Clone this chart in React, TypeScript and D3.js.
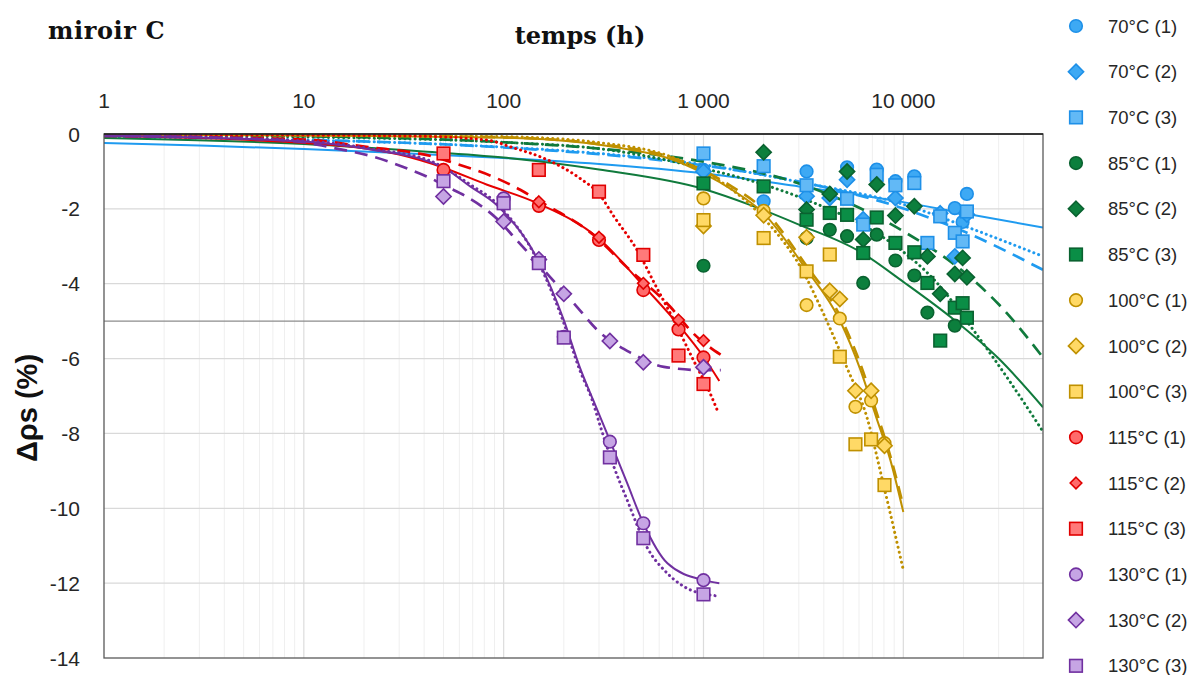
import React from "react";
import * as d3 from "d3";

const W = 1196;
const H = 675;

// axis ticks
const xTicks = [1, 10, 100, 1000, 10000];
const xTickLabels = ["1", "10", "100", "1 000", "10 000"];
const yTicks = [0, -2, -4, -6, -8, -10, -12, -14];
const yTickLabels = ["0", "-2", "-4", "-6", "-8", "-10", "-12", "-14"];
const thresholdValue = -5;

// measured points [time (h), Δρs (%)]
const s70_1 = [[1000, -0.96], [2000, -1.8], [3280, -1.0], [5230, -0.89], [7360, -0.95], [9130, -1.26], [11350, -1.13], [18100, -1.98], [19800, -2.35], [20800, -1.6]];
const s70_2 = [[1000, -1.0], [3280, -1.66], [4285, -1.71], [5230, -1.22], [6300, -2.28], [9130, -1.71], [15300, -2.12], [18100, -3.27], [20800, -2.15]];
const s70_3 = [[1000, -0.52], [2000, -0.86], [3280, -1.37], [5230, -1.73], [6300, -2.42], [7360, -1.09], [9130, -1.37], [11350, -1.31], [13200, -2.91], [15300, -2.2], [18100, -2.64], [19800, -2.87], [20800, -2.07]];
const s85_1 = [[1000, -3.52], [3280, -2.78], [4285, -2.56], [5230, -2.73], [6300, -3.98], [7360, -2.69], [9130, -3.38], [11350, -3.78], [13200, -4.77], [18100, -5.12]];
const s85_2 = [[2000, -0.49], [3280, -2.02], [4285, -1.6], [5230, -1.0], [6300, -2.82], [7360, -1.35], [9130, -2.18], [11350, -1.93], [13200, -3.27], [15300, -4.27], [18100, -3.74], [19800, -3.31], [20800, -3.83]];
const s85_3 = [[1000, -1.32], [2000, -1.4], [3280, -2.29], [4285, -2.11], [5230, -2.16], [6300, -3.18], [7360, -2.23], [9130, -2.91], [11350, -3.16], [13200, -3.98], [15300, -5.52], [18100, -4.64], [19800, -4.52], [20800, -4.91]];
const s100_1 = [[1000, -1.72], [2000, -2.05], [3280, -4.57], [4810, -4.93], [5760, -7.29], [6900, -7.12], [8050, -8.26]];
const s100_2 = [[1000, -2.46], [2000, -2.17], [3280, -2.76], [4285, -4.19], [4810, -4.41], [5760, -6.86], [6900, -6.86], [8050, -8.33]];
const s100_3 = [[1000, -2.3], [2000, -2.78], [3280, -3.67], [4285, -3.22], [4810, -5.95], [5760, -8.29], [6900, -8.16], [8050, -9.38]];
const s115_1 = [[50, -0.96], [150, -1.92], [300, -2.83], [500, -4.17], [750, -5.22], [1000, -5.97]];
const s115_2 = [[150, -1.81], [300, -2.76], [500, -3.99], [750, -4.97], [1000, -5.52]];
const s115_3 = [[50, -0.52], [150, -0.96], [300, -1.54], [500, -3.23], [750, -5.92], [1000, -6.68]];
const s130_1 = [[100, -1.72], [150, -3.42], [200, -5.42], [340, -8.22], [500, -10.4], [1000, -11.92]];
const s130_2 = [[50, -1.67], [100, -2.34], [150, -3.35], [200, -4.27], [340, -5.53], [500, -6.1], [1000, -6.23]];
const s130_3 = [[50, -1.26], [100, -1.85], [150, -3.45], [200, -5.44], [340, -8.64], [500, -10.8], [1000, -12.3]];

// trend curves [time (h), Δρs (%)]
const fit70_1 = [[1, -0.24], [3, -0.31], [10, -0.4], [30, -0.51], [100, -0.64], [300, -0.8], [1000, -1.05], [3000, -1.4], [10000, -1.82], [20000, -2.12], [50000, -2.5]];
const fit70_2 = [[1, -0.06], [10, -0.15], [100, -0.36], [300, -0.54], [1000, -0.84], [3000, -1.27], [10000, -1.99], [20000, -2.6], [50000, -3.63]];
const fit70_3 = [[1, -0.08], [10, -0.16], [100, -0.35], [300, -0.52], [1000, -0.82], [3000, -1.28], [10000, -1.88], [20000, -2.45], [50000, -3.27]];
const fit85_1 = [[1, -0.11], [10, -0.27], [38, -0.46], [100, -0.63], [300, -0.95], [1000, -1.47], [1720, -1.9], [3000, -2.42], [6100, -3.15], [10000, -3.95], [18000, -4.97], [30000, -6.0], [50000, -7.3]];
const fit85_2 = [[1, -0.02], [10, -0.06], [100, -0.22], [300, -0.39], [1000, -0.74], [3000, -1.32], [10000, -2.6], [20000, -3.68], [30000, -4.55], [50000, -5.97]];
const fit85_3 = [[1, -0.03], [10, -0.08], [100, -0.22], [330, -0.42], [1000, -0.92], [2000, -1.35], [4000, -1.95], [6100, -2.4], [10000, -3.15], [14300, -3.9], [22500, -5.25], [35000, -6.7], [50000, -7.95]];
const fit100_1 = [[1, -0.02], [10, -0.04], [100, -0.1], [180, -0.16], [380, -0.37], [680, -0.66], [1000, -1.05], [1400, -1.5], [2000, -2.12], [3200, -3.55], [4800, -4.97], [6100, -6.3], [7300, -7.55], [8600, -8.7], [10000, -10.1]];
const fit100_2 = [[1, -0.01], [10, -0.03], [100, -0.09], [300, -0.27], [680, -0.62], [1000, -0.98], [1400, -1.42], [2000, -2.02], [3200, -3.45], [4800, -4.85], [6100, -6.15], [7300, -7.4], [8600, -8.6], [10000, -9.95]];
const fit100_3 = [[1, -0.0], [10, -0.02], [100, -0.07], [300, -0.23], [680, -0.6], [1000, -1.0], [1400, -1.5], [2000, -2.25], [3280, -3.85], [3700, -4.43], [5200, -6.22], [6600, -7.6], [7900, -9.3], [10000, -11.65]];
const fit115_1 = [[1, -0.05], [10, -0.24], [30, -0.55], [50, -0.9], [82, -1.35], [146, -1.84], [300, -2.8], [500, -4.05], [750, -5.1], [1000, -5.95], [1200, -6.6]];
const fit115_2 = [[1, -0.05], [10, -0.15], [21, -0.35], [44, -0.6], [56, -0.77], [92, -1.18], [121, -1.49], [146, -1.75], [282, -2.7], [412, -3.55], [680, -4.61], [890, -5.33], [1220, -5.9]];
const fit115_3 = [[1, -0.02], [10, -0.03], [38, -0.06], [82, -0.16], [112, -0.37], [164, -0.68], [243, -1.2], [300, -1.6], [356, -2.2], [465, -3.1], [580, -4.08], [710, -4.97], [890, -6.04], [1080, -6.93], [1170, -7.37]];
const fit130_1 = [[1, -0.05], [10, -0.2], [22, -0.42], [43, -0.75], [50, -0.9], [68, -1.4], [92, -1.89], [150, -3.41], [200, -4.97], [240, -6.22], [280, -7.1], [342, -8.22], [415, -9.33], [500, -10.4], [660, -11.47], [1000, -11.92], [1200, -12.0]];
const fit130_2 = [[1, -0.05], [5, -0.12], [10, -0.22], [14, -0.37], [22, -0.6], [34, -0.95], [43, -1.18], [52, -1.41], [65, -1.67], [92, -2.25], [116, -2.83], [170, -3.81], [232, -4.61], [292, -5.22], [437, -5.86], [633, -6.22], [1000, -6.31], [1220, -6.31]];
const fit130_3 = [[1, -0.04], [10, -0.18], [22, -0.4], [43, -0.72], [68, -1.35], [92, -1.85], [150, -3.45], [200, -5.05], [240, -6.3], [277, -7.1], [305, -7.82], [356, -8.89], [415, -9.78], [520, -11.03], [660, -11.74], [860, -12.18], [1170, -12.34]];

const seriesNames = ["70°C (1)", "70°C (2)", "70°C (3)", "85°C (1)", "85°C (2)", "85°C (3)", "100°C (1)", "100°C (2)", "100°C (3)", "115°C (1)", "115°C (2)", "115°C (3)", "130°C (1)", "130°C (2)", "130°C (3)"];

const C70 = { line: "#1F9BF0", stroke: "#1E90E8", fill: "#3DA9F4", fillSq: "#62B9F6" };
const C85 = { line: "#107A3C", stroke: "#0A6230", fill: "#0C7F3D", fillSq: "#0A8E46" };
const C100 = { line: "#BF9000", stroke: "#BF9000", fill: "#FFD966", fillSq: "#FFD966" };
const C115 = { line: "#E60000", stroke: "#E00000", fill: "#FF6B6B", fillSq: "#FF7A7A" };
const C130 = { line: "#7030A0", stroke: "#7030A0", fill: "#C6A5E4", fillSq: "#C6A5E4" };

const seriesDefs = [
  { data: s70_1, fit: fit70_1, shape: "circle", c: C70, style: "solid" },
  { data: s70_2, fit: fit70_2, shape: "diamond", c: C70, style: "dash" },
  { data: s70_3, fit: fit70_3, shape: "square", c: C70, style: "dot" },
  { data: s85_1, fit: fit85_1, shape: "circle", c: C85, style: "solid" },
  { data: s85_2, fit: fit85_2, shape: "diamond", c: C85, style: "dash" },
  { data: s85_3, fit: fit85_3, shape: "square", c: C85, style: "dot" },
  { data: s100_1, fit: fit100_1, shape: "circle", c: C100, style: "solid" },
  { data: s100_2, fit: fit100_2, shape: "diamond", c: C100, style: "dash" },
  { data: s100_3, fit: fit100_3, shape: "square", c: C100, style: "dot" },
  { data: s115_1, fit: fit115_1, shape: "circle", c: C115, style: "solid" },
  { data: s115_2, fit: fit115_2, shape: "smalldiamond", c: C115, style: "dash" },
  { data: s115_3, fit: fit115_3, shape: "square", c: C115, style: "dot" },
  { data: s130_1, fit: fit130_1, shape: "circle", c: C130, style: "solid" },
  { data: s130_2, fit: fit130_2, shape: "diamond", c: C130, style: "dash" },
  { data: s130_3, fit: fit130_3, shape: "square", c: C130, style: "dot" },
];

const PL = 104, PR = 1043, PT = 134, PB = 658;

function Marker({ shape, cx, cy, c }: any) {
  const sw = 1.6;
  if (shape === "circle") return <circle cx={cx} cy={cy} r={6.3} fill={c.fill} stroke={c.stroke} strokeWidth={sw} />;
  if (shape === "square") return <rect x={cx - 6.3} y={cy - 6.3} width={12.6} height={12.6} fill={c.fillSq} stroke={c.stroke} strokeWidth={sw} />;
  const r = shape === "smalldiamond" ? 5.8 : 7.6;
  const d = `M${cx},${cy - r}L${cx + r},${cy}L${cx},${cy + r}L${cx - r},${cy}Z`;
  return <path d={d} fill={c.fill} stroke={c.stroke} strokeWidth={sw} />;
}

export default function App() {
  const x = d3.scaleLog().domain([1, 50000]).range([PL, PR]);
  const y = d3.scaleLinear().domain([0, -14]).range([PT, PB]);
  const minor: number[] = [];
  for (let d = 1; d <= 10000; d *= 10) for (let k = 2; k <= 9; k++) if (k * d < 50000) minor.push(k * d);
  const line = d3.line<any>().x((d) => x(d[0])).y((d) => y(d[1])).curve(d3.curveMonotoneX);
  const dashFor = (s: string) => (s === "dash" ? "13,8" : s === "dot" ? "0.1,5" : undefined);
  const widthFor = (s: string) => (s === "dash" ? 2.7 : s === "dot" ? 3 : 2);
  const legendY = (i: number) => 26 + 45.7 * i;
  const sans = "'Liberation Sans', Arial, sans-serif";
  const serif = "'DejaVu Serif', serif";
  return (
    <svg width={W} height={H} style={{ display: "block", position: "absolute", left: 0, top: 0 }}>
      <rect width={W} height={H} fill="#fff" />
      <defs>
        <clipPath id="plot">
          <rect x={PL} y={PT} width={PR - PL} height={PB - PT} />
        </clipPath>
      </defs>
      {/* grid */}
      {minor.map((v) => (
        <line key={"mn" + v} x1={x(v)} x2={x(v)} y1={PT} y2={PB} stroke="#efefef" strokeWidth={1} />
      ))}
      {xTicks.slice(1).map((v) => (
        <line key={"mj" + v} x1={x(v)} x2={x(v)} y1={PT} y2={PB} stroke="#dcdcdc" strokeWidth={1.2} />
      ))}
      {yTicks.slice(1, -1).map((v) => (
        <line key={"hy" + v} x1={PL} x2={PR} y1={y(v)} y2={y(v)} stroke="#d9d9d9" strokeWidth={1.2} />
      ))}
      <line x1={PL} x2={PR} y1={y(thresholdValue)} y2={y(thresholdValue)} stroke="#8c8c8c" strokeWidth={1.3} />
      {/* trend curves */}
      <g clipPath="url(#plot)">
        {seriesDefs.map((s, i) => (
          <path
            key={"f" + i}
            d={line(s.fit) || ""}
            fill="none"
            stroke={s.c.line}
            strokeWidth={widthFor(s.style)}
            strokeDasharray={dashFor(s.style)}
            strokeLinecap={s.style === "dot" ? "round" : "butt"}
          />
        ))}
      </g>
      {/* markers */}
      {seriesDefs.map((s, i) => (
        <g key={"m" + i}>
          {s.data.map((d, j) => (
            <Marker key={j} shape={s.shape} cx={x(d[0])} cy={y(d[1])} c={s.c} />
          ))}
        </g>
      ))}
      {/* frame */}
      <rect x={PL} y={PT} width={PR - PL} height={PB - PT} fill="none" stroke="#595959" strokeWidth={1.3} />
      <line x1={PL} x2={PR} y1={PT} y2={PT} stroke="#1a1a1a" strokeWidth={1.5} />
      {/* axis tick labels */}
      {xTicks.map((v, i) => (
        <text key={"xt" + v} x={x(v)} y={108} textAnchor="middle" fontFamily={sans} fontSize={21} fill="#262626">
          {xTickLabels[i]}
        </text>
      ))}
      {yTicks.map((v, i) => (
        <text key={"yt" + v} x={80} y={y(v)} dy="0.36em" textAnchor="end" fontFamily={sans} fontSize={21} fill="#262626">
          {yTickLabels[i]}
        </text>
      ))}
      {/* titles */}
      <text x={48} y={39} fontFamily={serif} fontWeight="bold" fontSize={24} letterSpacing={0.6} fill="#111">
        miroir C
      </text>
      <text x={580} y={44} textAnchor="middle" fontFamily={serif} fontWeight="bold" fontSize={24} fill="#111">
        temps (h)
      </text>
      <text transform={`translate(37,408) rotate(-90)`} textAnchor="middle" fontFamily={sans} fontWeight="bold" fontSize={29} fill="#111">
        Δρs (%)
      </text>
      {/* legend */}
      {seriesDefs.map((s, i) => (
        <g key={"lg" + i}>
          <Marker shape={s.shape} cx={1076} cy={legendY(i)} c={s.c} />
          <text x={1108} y={legendY(i)} dy="0.36em" fontFamily={sans} fontSize={18.5} fill="#262626">
            {seriesNames[i]}
          </text>
        </g>
      ))}
    </svg>
  );
}
